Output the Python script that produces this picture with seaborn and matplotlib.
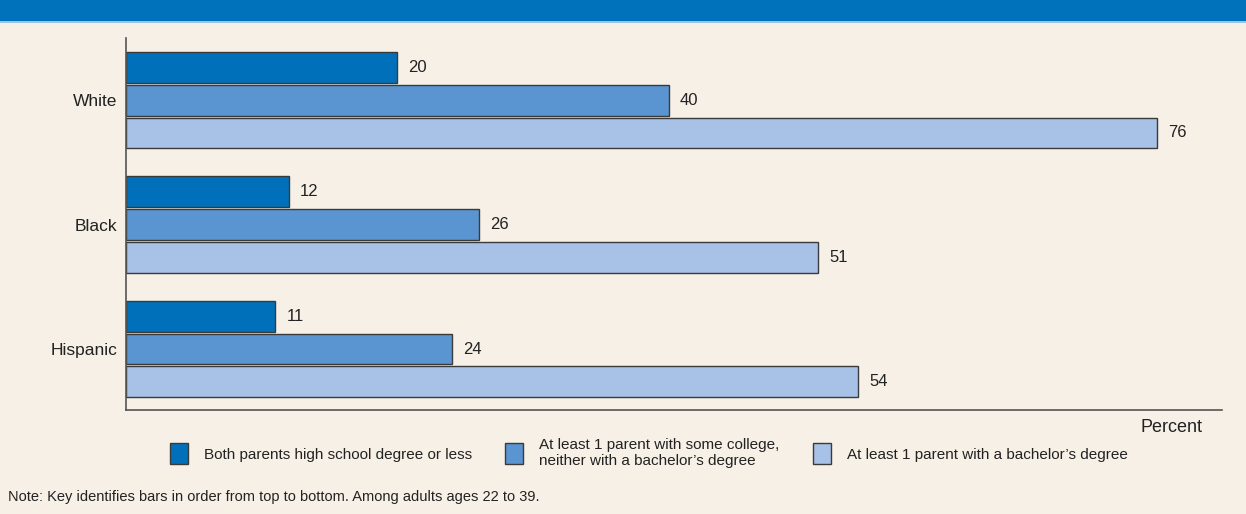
import matplotlib
matplotlib.use("Agg")
import matplotlib.pyplot as plt
from matplotlib.patches import Rectangle, Patch
import seaborn as sns
import pandas as pd

groups = ["White", "Black", "Hispanic"]
series = [
    "Both parents high school degree or less",
    "At least 1 parent with some college,\nneither with a bachelor\u2019s degree",
    "At least 1 parent with a bachelor\u2019s degree",
]
values_hs = [20, 12, 11]
values_some = [40, 26, 24]
values_ba = [76, 51, 54]
x_label = "Percent"
note = "Note: Key identifies bars in order from top to bottom. Among adults ages 22 to 39."

colors = ["#0070BA", "#5A94D1", "#A8C1E6"]
bg = "#F7F0E6"

rows = []
for s, vals in zip(series, [values_hs, values_some, values_ba]):
    for g, v in zip(groups, vals):
        rows.append({"group": g, "series": s, "value": v})
df = pd.DataFrame(rows)

sns.set_theme(style="white")
plt.rcParams["font.family"] = ["Liberation Sans", "DejaVu Sans"]

fig = plt.figure(figsize=(12.46, 5.14), dpi=100, facecolor=bg)
ax = fig.add_axes([126 / 1246, 1 - 410 / 514, (1222 - 126) / 1246, (410 - 38) / 514])
ax.set_facecolor(bg)

sns.barplot(data=df, x="value", y="group", hue="series", hue_order=series,
            order=groups, orient="h", palette=colors, saturation=1,
            width=0.79, gap=0.06, edgecolor="#3a3a3a", linewidth=1.0,
            legend=False, ax=ax)

for cont in ax.containers:
    ax.bar_label(cont, fmt="%d", padding=8, fontsize=12, color="#222222")

ax.set_xlim(0, 80.8)
ax.set_ylim(2.49, -0.5)
ax.set_xlabel("")
ax.set_ylabel("")
ax.set_xticks([])
ax.tick_params(axis="y", length=0, pad=6, labelsize=12.5, labelcolor="#222222")
for side in ["top", "right"]:
    ax.spines[side].set_visible(False)
for side in ["left", "bottom"]:
    ax.spines[side].set_color("#555555")
    ax.spines[side].set_linewidth(1.2)

# header band
fig.patches.append(Rectangle((0, 1 - 21 / 514), 1, 21 / 514, transform=fig.transFigure,
                             facecolor="#0072BC", edgecolor="none", zorder=0))
fig.patches.append(Rectangle((0, 1 - 23 / 514), 1, 2 / 514, transform=fig.transFigure,
                             facecolor="#9CC3E6", edgecolor="none", zorder=0))

fig.text(1203 / 1246, 1 - 427 / 514, x_label, ha="right", va="center",
         fontsize=13, color="#222222")

handles = [Patch(facecolor=c, edgecolor="#3a3a3a", linewidth=1.0) for c in colors]
leg = fig.legend(handles, series, ncol=3, frameon=False,
                 loc="center left", bbox_to_anchor=(164 / 1246, 1 - 453 / 514),
                 borderaxespad=0, fontsize=11, handlelength=1.15, handleheight=1.7,
                 handletextpad=1.05, columnspacing=2.2, labelcolor="#222222")

fig.text(8 / 1246, 1 - 497 / 514, note, ha="left", va="center",
         fontsize=10.5, color="#222222")

fig.savefig("out.png", dpi=100, facecolor=bg)
